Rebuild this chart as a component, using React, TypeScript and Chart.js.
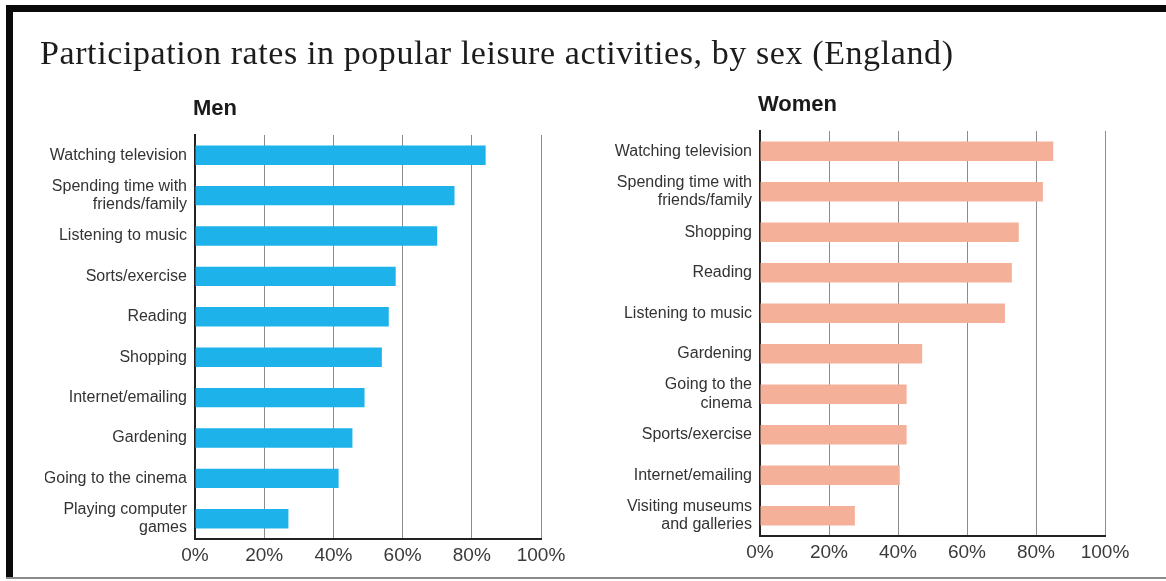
import React, { useEffect, useRef } from 'react';
import { Chart, registerables } from 'chart.js';

Chart.register(...registerables);

const menCategories: (string | string[])[] = [
  'Watching television',
  ['Spending time with', 'friends/family'],
  'Listening to music',
  'Sorts/exercise',
  'Reading',
  'Shopping',
  'Internet/emailing',
  'Gardening',
  'Going to the cinema',
  ['Playing computer', 'games'],
];
const menValues = [84, 75, 70, 58, 56, 54, 49, 45.5, 41.5, 27];

const womenCategories: (string | string[])[] = [
  'Watching television',
  ['Spending time with', 'friends/family'],
  'Shopping',
  'Reading',
  'Listening to music',
  'Gardening',
  ['Going to the', 'cinema'],
  'Sports/exercise',
  'Internet/emailing',
  ['Visiting museums', 'and galleries'],
];
const womenValues = [85, 82, 75, 73, 71, 47, 42.5, 42.5, 40.5, 27.5];

const xTickValues = [0, 20, 40, 60, 80, 100];

const MEN_COLOR = '#1db2ea';
const WOMEN_COLOR = '#f5b09a';

type Pad = { left: number; right: number; top: number; bottom: number };

function makeConfig(labels: (string | string[])[], values: number[], color: string, pad: Pad): any {
  return {
    type: 'bar',
    data: {
      labels,
      datasets: [
        {
          data: values,
          backgroundColor: color,
          borderWidth: 0,
          barPercentage: 0.48,
          categoryPercentage: 1,
        },
      ],
    },
    options: {
      indexAxis: 'y',
      animation: false,
      responsive: false,
      maintainAspectRatio: false,
      layout: { padding: pad },
      plugins: {
        legend: { display: false },
        tooltip: { enabled: false },
        title: { display: false },
      },
      scales: {
        x: {
          type: 'linear',
          position: 'bottom',
          min: 0,
          max: 100,
          afterBuildTicks: (scale: any) => {
            scale.ticks = xTickValues.map((v) => ({ value: v }));
          },
          ticks: {
            color: '#3a3a3a',
            font: { family: '"Liberation Sans", Arial, sans-serif', size: 19 },
            padding: 5,
            callback: (v: any) => v + '%',
            maxRotation: 0,
          },
          grid: { color: '#8c8c8c', lineWidth: 1, drawTicks: false },
          border: { color: '#222', width: 2 },
          afterFit: (scale: any) => {
            scale.height = 42;
          },
        },
        y: {
          type: 'category',
          position: 'left',
          ticks: {
            color: '#333',
            font: { family: '"Liberation Sans", Arial, sans-serif', size: 16, lineHeight: 1.15 },
            padding: 8,
            autoSkip: false,
          },
          grid: { display: false, drawTicks: false },
          border: { color: '#222', width: 2 },
          afterFit: (scale: any) => {
            scale.width = 150;
          },
        },
      },
    },
  };
}

function BarPanel(props: {
  labels: (string | string[])[];
  values: number[];
  color: string;
  pad: Pad;
  left: number;
}) {
  const ref = useRef<HTMLCanvasElement | null>(null);
  useEffect(() => {
    if (!ref.current) return;
    const chart = new Chart(ref.current, makeConfig(props.labels, props.values, props.color, props.pad));
    return () => chart.destroy();
  }, []);
  return (
    <canvas
      ref={ref}
      width={583}
      height={581}
      style={{ position: 'absolute', left: props.left, top: 0, width: 583, height: 581 }}
    />
  );
}

export default function App() {
  return (
    <div
      style={{
        position: 'fixed',
        left: 0,
        top: 0,
        width: 1166,
        height: 581,
        background: '#ffffff',
        overflow: 'hidden',
      }}
    >
      {/* frame */}
      <div style={{ position: 'absolute', left: 6, top: 5, width: 1160, height: 7, background: '#0a0a0a' }} />
      <div style={{ position: 'absolute', left: 6, top: 5, width: 7, height: 574, background: '#0a0a0a' }} />
      <div style={{ position: 'absolute', left: 6, top: 577, width: 1160, height: 2, background: '#8a8a8a' }} />

      <BarPanel labels={menCategories} values={menValues} color={MEN_COLOR} left={0}
        pad={{ left: 45, right: 42, top: 135, bottom: 0 }} />
      <BarPanel labels={womenCategories} values={womenValues} color={WOMEN_COLOR} left={583}
        pad={{ left: 27, right: 61, top: 131, bottom: 3 }} />

      <div
        style={{
          position: 'absolute',
          left: 40,
          top: 36,
          fontFamily: '"Liberation Serif", "Times New Roman", serif',
          fontSize: 34,
          lineHeight: '34px',
          letterSpacing: '0.6px',
          color: '#1c1c1c',
          whiteSpace: 'nowrap',
        }}
      >
        Participation rates in popular leisure activities, by sex (England)
      </div>
      <div
        style={{
          position: 'absolute',
          left: 193,
          top: 97,
          fontFamily: '"Liberation Sans", Arial, sans-serif',
          fontWeight: 'bold',
          fontSize: 22,
          lineHeight: '22px',
          color: '#1a1a1a',
        }}
      >
        Men
      </div>
      <div
        style={{
          position: 'absolute',
          left: 758,
          top: 93,
          fontFamily: '"Liberation Sans", Arial, sans-serif',
          fontWeight: 'bold',
          fontSize: 22,
          lineHeight: '22px',
          color: '#1a1a1a',
        }}
      >
        Women
      </div>
    </div>
  );
}
